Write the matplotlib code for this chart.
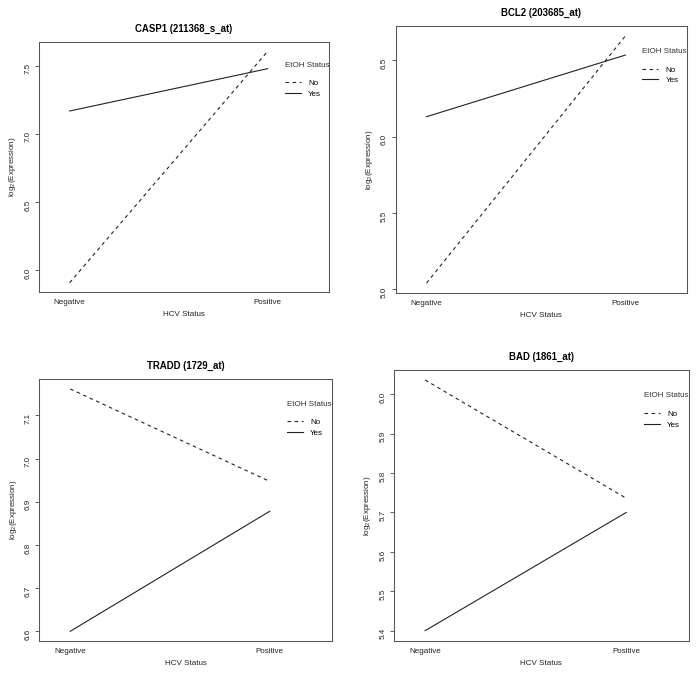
import matplotlib
matplotlib.use("Agg")
import matplotlib.pyplot as plt

plt.rcParams['font.family'] = ['Liberation Sans', 'DejaVu Sans']
plt.rcParams['mathtext.fontset'] = 'custom'
plt.rcParams['mathtext.rm'] = 'Liberation Sans'
plt.rcParams['mathtext.it'] = 'Liberation Sans:italic'

# data
hcv_levels = ["Negative", "Positive"]
etoh_levels = ["No", "Yes"]
titles = ["CASP1 (211368_s_at)", "BCL2 (203685_at)", "TRADD (1729_at)", "BAD (1861_at)"]

casp1_no = [5.91, 7.605]
casp1_yes = [7.168, 7.478]
bcl2_no = [5.04, 6.66]
bcl2_yes = [6.131, 6.535]
tradd_no = [7.161, 6.947]
tradd_yes = [6.600, 6.878]
bad_no = [6.036, 5.736]
bad_yes = [5.400, 5.700]

panels = [(casp1_no, casp1_yes), (bcl2_no, bcl2_yes),
          (tradd_no, tradd_yes), (bad_no, bad_yes)]

yticks = [[6.0, 6.5, 7.0, 7.5],
          [5.0, 5.5, 6.0, 6.5],
          [6.6, 6.7, 6.8, 6.9, 7.0, 7.1],
          [5.4, 5.5, 5.6, 5.7, 5.8, 5.9, 6.0]]

# axes boxes in figure fractions (left, bottom, width, height)
boxes = [[0.056, 0.570, 0.4167, 0.368],
         [0.5685, 0.5685, 0.4185, 0.393],
         [0.0565, 0.056, 0.420, 0.3854],
         [0.566, 0.0564, 0.4234, 0.3987]]

fs = 5.8
ink = '#222222'

fig = plt.figure(figsize=(6.96, 6.79), dpi=100)

for i, (no_vals, yes_vals) in enumerate(panels):
    ax = fig.add_axes(boxes[i])
    x = [1, 2]
    ax.plot(x, no_vals, color=ink, lw=0.8, dashes=(3.2, 3.2), label=etoh_levels[0])
    ax.plot(x, yes_vals, color=ink, lw=0.8, label=etoh_levels[1])

    # R-style 4% padding around the data range
    lo = min(no_vals + yes_vals)
    hi = max(no_vals + yes_vals)
    d = hi - lo
    ax.set_ylim(lo - 0.04 * d, hi + 0.04 * d)
    ax.set_xlim(0.845, 2.31)

    ax.set_xticks(x)
    ax.set_xticklabels(hcv_levels, fontsize=fs, color='#222222')
    ax.set_yticks(yticks[i])
    ax.set_yticklabels(["%.1f" % v for v in yticks[i]], fontsize=fs, color='#222222')
    ax.tick_params(axis='x', length=0, pad=5)
    ax.tick_params(axis='y', length=2.6, width=0.6, pad=3, labelrotation=90, color='#444444')

    for s in ax.spines.values():
        s.set_color('#555555')
        s.set_linewidth(0.75)

    ax.set_xlabel("HCV Status", fontsize=fs, labelpad=4, color='#222222')
    ax.set_ylabel(r"log$_\mathregular{2}$(Expression)", fontsize=fs, labelpad=4.3, color='#222222')
    ax.set_title(titles[i], fontsize=6.9, fontweight='bold', pad=7.5)

    ax.text(0.847, 0.905, "EtOH Status", transform=ax.transAxes,
            ha='left', va='center', fontsize=fs, color='#333333')
    ax.legend(loc='upper left', bbox_to_anchor=(0.847, 0.85), frameon=False,
              fontsize=fs, borderpad=0, borderaxespad=0, handlelength=2.0,
              handletextpad=0.9, labelspacing=0.35)

fig.savefig("out.png", dpi=100)
